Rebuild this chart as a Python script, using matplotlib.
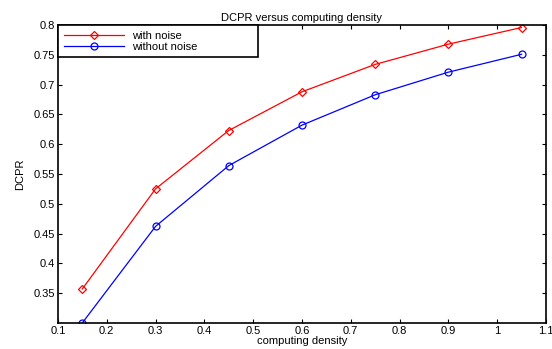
import matplotlib.pyplot as plt

density = [0.15, 0.3, 0.45, 0.6, 0.75, 0.9, 1.05]
with_noise = [0.357, 0.525, 0.623, 0.688, 0.734, 0.768, 0.796]
without_noise = [0.300, 0.462, 0.564, 0.632, 0.683, 0.721, 0.751]

xticks = [0.1, 0.2, 0.3, 0.4, 0.5, 0.6, 0.7, 0.8, 0.9, 1.0, 1.1]
xticklabels = ['0.1', '0.2', '0.3', '0.4', '0.5', '0.6', '0.7', '0.8', '0.9', '1', '1.1']
yticks = [0.35, 0.4, 0.45, 0.5, 0.55, 0.6, 0.65, 0.7, 0.75, 0.8]

plt.rcParams['font.family'] = ['Liberation Sans', 'DejaVu Sans']
plt.rcParams['font.size'] = 8

fig = plt.figure(figsize=(5.52, 3.49), dpi=100)
ax = fig.add_axes([0.105, 0.075, 0.884, 0.853])

ax.plot(density, with_noise, color='red', lw=0.9, marker='D', ms=4.5,
        mfc='none', mec='red', mew=0.9, label='with noise')
ax.plot(density, without_noise, color='blue', lw=0.9, marker='o', ms=5,
        mfc='none', mec='blue', mew=0.9, label='without noise')

ax.set_xlim(0.1, 1.1)
ax.set_ylim(0.3, 0.8)
ax.set_xticks(xticks)
ax.set_xticklabels(xticklabels)
ax.set_yticks(yticks)
ax.set_yticklabels([('%.2f' % t).rstrip('0') for t in yticks])
ax.tick_params(direction='in', top=True, right=True, length=3, width=0.8, pad=2)
for s in ax.spines.values():
    s.set_linewidth(1.2)

ax.set_title('DCPR versus computing density', fontsize=8, pad=3)
ax.set_xlabel('computing density', labelpad=0)
ax.set_ylabel('DCPR', labelpad=6)

leg = ax.legend(loc='upper left', bbox_to_anchor=(0, 1, 0.41, 0), mode='expand',
                borderaxespad=0, fancybox=False, edgecolor='black',
                handlelength=5.4, framealpha=1, borderpad=0.5,
                labelspacing=0.1, handletextpad=0.8)
leg.get_frame().set_linewidth(1.2)

fig.savefig('out.png', dpi=100)
